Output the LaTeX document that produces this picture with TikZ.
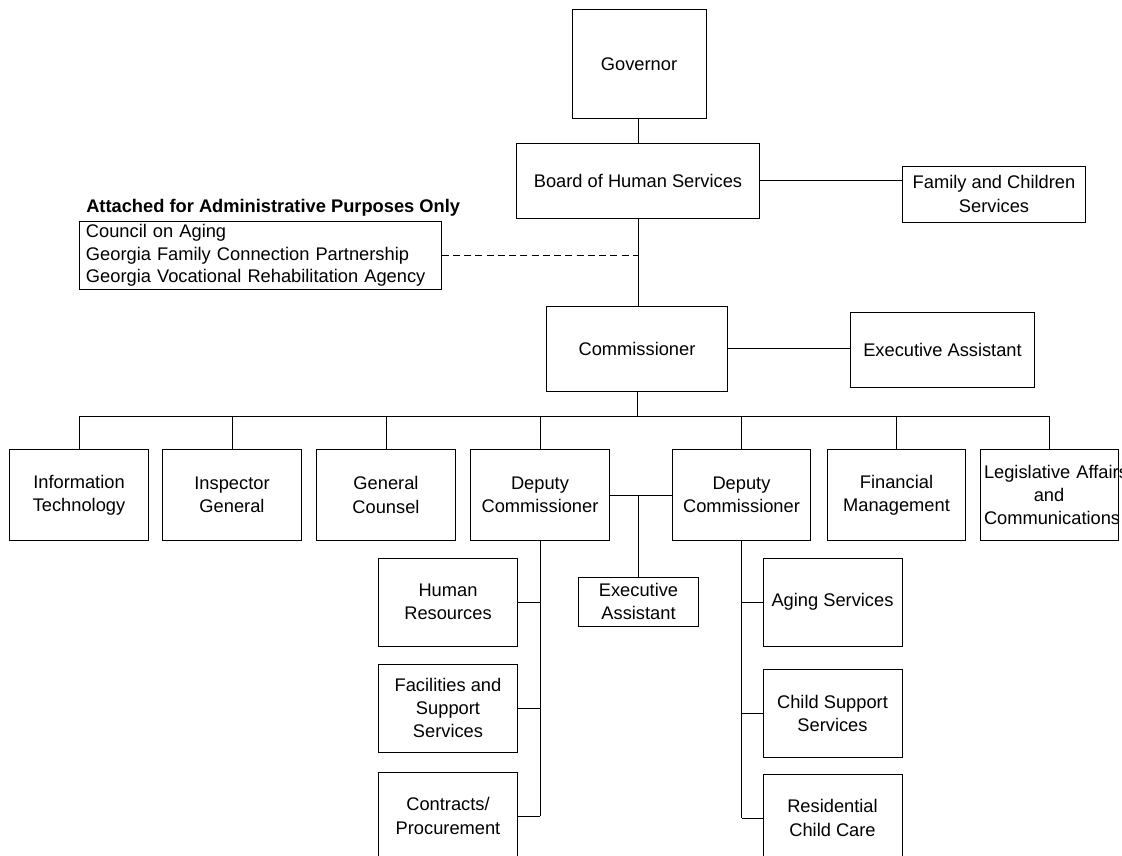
\documentclass[tikz,border=0pt]{standalone}
\usepackage{fontspec}
\setmainfont{Liberation Sans}
\usepackage{tikz}

\begin{document}
\begin{tikzpicture}[x=0.025cm,y=-0.025cm,
		box/.style={draw,line width=0.7pt,align=center,inner sep=2pt,font=\fontsize{13}{16.5}\selectfont},
		unit/.style={box,minimum width=3.45cm,minimum height=2.275cm,text width=3.25cm,inner xsep=0.1cm},
		sub/.style={box,minimum width=3.475cm,minimum height=2.2cm},
		link/.style={line width=0.7pt}]
	% Page frame
	\useasboundingbox (0,0) rectangle (1122,855);
	\clip (0,0) rectangle (1122,855);
	% Top of the chart
	\node[box,minimum width=3.35cm,minimum height=2.7cm] (gov) at (639,64) {Governor};
	\node[box,minimum width=6.05cm,minimum height=1.875cm] (board) at (638,180.5) {Board of Human Services};
	\node[box,minimum width=4.55cm,minimum height=1.4cm] (family) at (994,194) {Family and Children\\Services};
	\node[anchor=west,inner sep=0pt,font=\bfseries\fontsize{13}{16}\selectfont] (title) at (86,208) {Attached for Administrative Purposes Only};
	\node[box,align=left,font=\fontsize{13}{16}\selectfont,text width=8.725cm,inner xsep=0.15cm,minimum height=1.675cm] (attached) at (260.5,255.5) {Council on Aging\\Georgia Family Connection Partnership\\Georgia Vocational Rehabilitation Agency};
	\node[box,minimum width=4.5cm,minimum height=2.125cm] (comm) at (637,348.5) {Commissioner};
	\node[box,minimum width=4.575cm,minimum height=1.875cm] (exec) at (942.5,349.5) {Executive Assistant};
	% Row of offices
	\node[unit] (it) at (79,495) {Information\\Technology};
	\node[unit] (ig) at (232,495) {Inspector\\General};
	\node[unit] (gc) at (386,495) {General\\Counsel};
	\node[unit] (dep1) at (540,495) {Deputy\\Commissioner};
	\node[unit] (dep2) at (741.5,495) {Deputy\\Commissioner};
	\node[unit] (fin) at (896.5,495) {Financial\\Management};
	\node[unit] (leg) at (1049,495) {\mbox{Legislative Affairs}\\and\\Communications};
	\node[box,minimum width=3cm,minimum height=1.225cm] (asst) at (638.5,601.5) {Executive\\Assistant};
	% Divisions
	\node[sub] (hr) at (448,602) {Human\\Resources};
	\node[sub] (fac) at (448,708) {Facilities and\\Support\\Services};
	\node[sub] (con) at (448,816) {Contracts/\\Procurement};
	\node[sub] (aging) at (832.5,602) {Aging Services};
	\node[sub] (child) at (832.5,713.5) {Child Support\\Services};
	\node[sub] (res) at (832.5,818) {Residential\\Child Care};
	% Connectors
	\coordinate (bus) at (637,416);
	\draw[link] (board.north) -- (board.north |- gov.south);
	\draw[link] (board.east) -- (board.east -| family.west);
	\draw[link] (board.south) -- (board.south |- comm.north);
	\draw[link,dash pattern=on 5pt off 3pt] (attached.east) -- (attached.east -| board.south);
	\draw[link] (comm.east) -- (comm.east -| exec.west);
	\draw[link] (comm.south) -- (bus);
	\draw[link] (it.north |- bus) -- (leg.north |- bus);
	\foreach \n in {it,ig,gc,dep1,dep2,fin,leg}
		\draw[link] (\n.north) -- (\n.north |- bus);
	\draw[link] (dep1.east) -- (dep2.west);
	\draw[link] (asst.north) -- (asst.north |- dep1.east);
	\draw[link] (dep1.south) -- (dep1.south |- con.east);
	\foreach \n in {hr,fac,con}
		\draw[link] (\n.east) -- (\n.east -| dep1.south);
	\draw[link] (dep2.south) -- (dep2.south |- res.west);
	\foreach \n in {aging,child,res}
		\draw[link] (\n.west) -- (\n.west -| dep2.south);
\end{tikzpicture}
\end{document}
